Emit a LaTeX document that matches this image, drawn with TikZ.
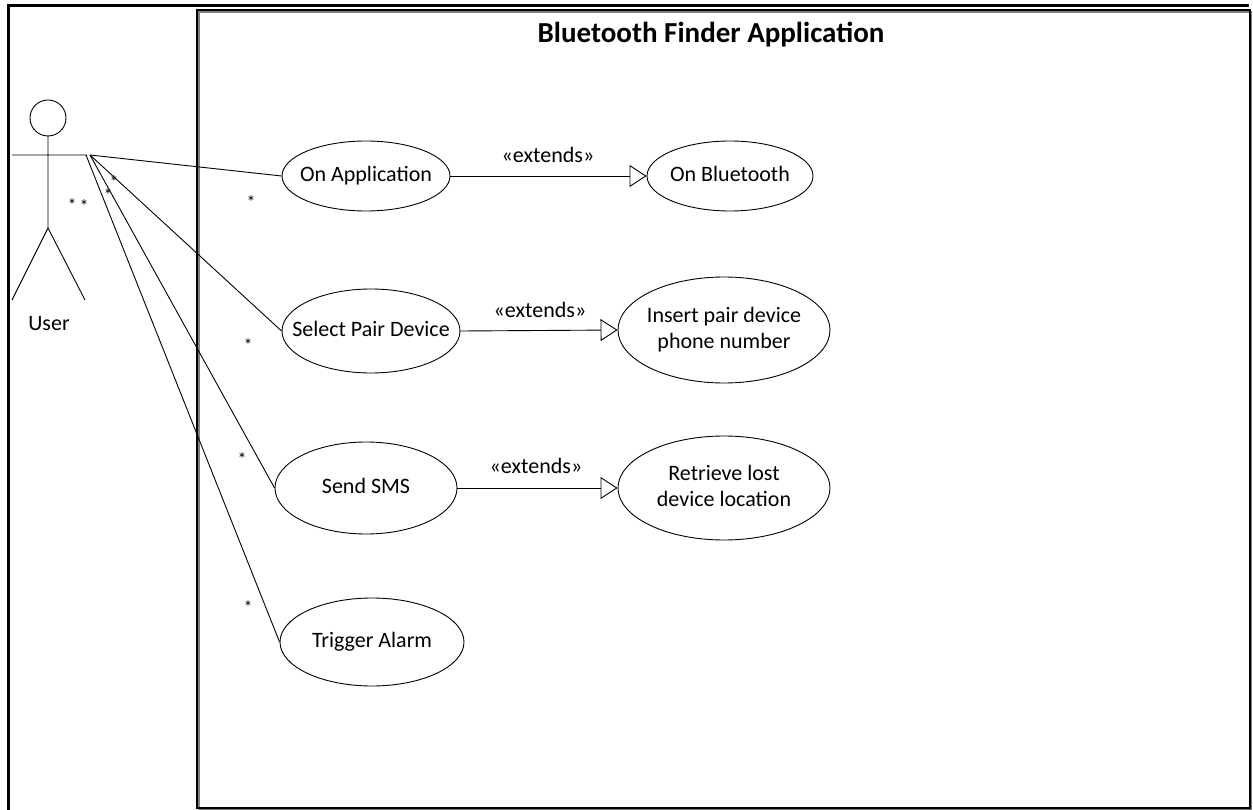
\documentclass[tikz,border=0pt]{standalone}
\usepackage{fontspec}
\setmainfont{Carlito}
\usetikzlibrary{shapes.geometric,arrows.meta}
\newcommand{\uctext}[1]{\makebox[0pt]{\begin{tabular}{@{}c@{}}#1\end{tabular}}}
\begin{document}
\begin{tikzpicture}[x=1pt,y=-1pt,
  usecase/.style={draw,ellipse,line width=0.9pt,inner sep=0pt,font=\fontsize{22}{26}\selectfont},
  assoc/.style={line width=0.9pt},
  ext/.style={line width=0.9pt,-{Triangle[open,length=17pt,width=22pt,fill=white]}},
  mult/.style={font=\fontsize{18}{18}\selectfont,inner sep=0pt},
  lbl/.style={font=\fontsize{22}{26}\selectfont,inner sep=0pt}]
\useasboundingbox (0,0) rectangle (1253,810);
\fill[white] (0,0) rectangle (1253,810);
% outer frame
\draw[line width=3pt] (8,810) -- (8,6) -- (1249,6);
% system boundary with shadow
\draw[gray,line width=1.2pt] (199,12) rectangle (1251.5,809.5);
\draw[line width=1.2pt] (197,10) rectangle (1250,808);
\node[font=\bfseries\fontsize{29}{33}\selectfont] (title) at (711,35) {Bluetooth Finder Application};
% actor
\draw[line width=0.9pt] (48,118) circle (18);
\coordinate (neck) at (48,136);
\coordinate (hip) at (48,228);
\coordinate (handL) at (12,155);
\coordinate (handR) at (87,155);
\coordinate (hA) at (86,155);
\coordinate (hB) at (90,155);
\draw[line width=0.9pt] (neck) -- (hip) (handL) -- (handR) (hip) -- (12,300) (hip) -- (85,300);
\node[lbl] (user) at (49,324) {User};
% use cases
\node[usecase,minimum width=168pt,minimum height=70pt] (onapp) at (366,176) {\uctext{On Application}};
\node[usecase,minimum width=166pt,minimum height=70pt] (onbt) at (730,176) {\uctext{On Bluetooth}};
\node[usecase,minimum width=178pt,minimum height=84pt] (select) at (371,331) {\uctext{Select Pair Device}};
\node[usecase,minimum width=212pt,minimum height=106pt] (insert) at (724,330) {\uctext{Insert pair device\\phone number}};
\node[usecase,minimum width=182pt,minimum height=92pt] (sms) at (366,488) {\uctext{Send SMS}};
\node[usecase,minimum width=212pt,minimum height=104pt] (retrieve) at (724,488) {\uctext{Retrieve lost\\device location}};
\node[usecase,minimum width=184pt,minimum height=88pt] (trigger) at (372,642) {\uctext{Trigger Alarm}};
% associations
\draw[assoc] (hB) -- (onapp.west);
\draw[assoc] (hB) -- (select.west);
\draw[assoc] (hB) -- (sms.west);
\draw[assoc] (hA) -- (trigger.west);
% multiplicities
\node[mult] (m1) at (72,205) {*};
\node[mult] (m2) at (84,206) {*};
\node[mult] (m3) at (114,182) {*};
\node[mult] (m4) at (108,195) {*};
\node[mult] (m5) at (251,202) {*};
\node[mult] (m6) at (248,345) {*};
\node[mult] (m7) at (242,459) {*};
\node[mult] (m8) at (248,607) {*};
% extends
\draw[ext] (onapp.east) -- (onbt.west);
\draw[ext] (select.east) -- (insert.west);
\draw[ext] (sms.east) -- (retrieve.west);
\node[lbl] (e1) at (548,155) {«extends»};
\node[lbl] (e2) at (540,310) {«extends»};
\node[lbl] (e3) at (536,466) {«extends»};
\end{tikzpicture}
\end{document}
